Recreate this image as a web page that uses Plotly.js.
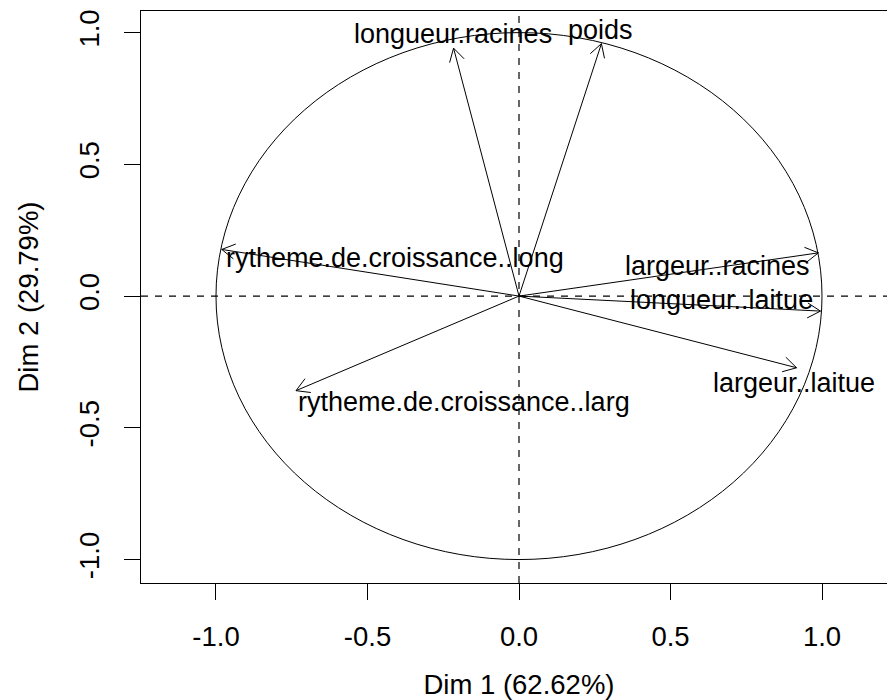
<!DOCTYPE html>
<html>
<head>
<meta charset="utf-8">
<script src="https://cdn.plot.ly/plotly-3.0.1.min.js"></script>
<style>
html, body { margin: 0; padding: 0; overflow: hidden; background: #ffffff; }
#chart { width: 900px; height: 700px; }
</style>
</head>
<body>
<div id="chart"></div>
<script>
// ---- data ----
const variables = ["longueur.racines", "poids", "rytheme.de.croissance..long", "largeur..racines",
                   "longueur..laitue", "largeur..laitue", "rytheme.de.croissance..larg"];
const dim1 = [-0.216, 0.272, -0.981, 0.988, 0.995, 0.916, -0.736];
const dim2 = [0.941, 0.958, 0.177, 0.164, -0.057, -0.272, -0.359];
const tickValues = [-1, -0.5, 0, 0.5, 1];
const tickLabels = ["-1.0", "-0.5", "0.0", "0.5", "1.0"];
const xTitle = "Dim 1 (62.62%)";
const yTitle = "Dim 2 (29.79%)";

// ---- layout constants ----
const W = 900, H = 700;
const M = { l: 141, r: 3, t: 11, b: 117 };
const xRange = [-1.2475, 1.2475];
const yRange = [-1.089, 1.082];
const FONT = "Liberation Sans, Arial, sans-serif";
const FS = 27;
const FSA = 27.5;

// pixel scale (for arrowhead geometry only)
const kx = (W - M.l - M.r) / (xRange[1] - xRange[0]);
const ky = (H - M.t - M.b) / (yRange[1] - yRange[0]);
const headLen = 15, headAng = 30 * Math.PI / 180;

// label placement relative to arrow tip (R-like pos)
const labelPlace = {
  "longueur.racines":            { xanchor: "center", xshift: -1, yshift: 14 },
  "poids":                       { xanchor: "center", xshift: -1, yshift: 14 },
  "rytheme.de.croissance..long": { xanchor: "left",   xshift: 2,  yshift: -9 },
  "largeur..racines":            { xanchor: "right",  xshift: -6, yshift: -13 },
  "longueur..laitue":            { xanchor: "right",  xshift: -5, yshift: 11 },
  "largeur..laitue":             { xanchor: "center", xshift: -3, yshift: -15 },
  "rytheme.de.croissance..larg": { xanchor: "left",   xshift: 0,  yshift: -11 }
};

// arrows: shaft + open V head, built from the data
const ax = [], ay = [];
for (let i = 0; i < variables.length; i++) {
  const x = dim1[i], y = dim2[i];
  ax.push(0, x, null); ay.push(0, y, null);
  const px = x * kx, py = y * ky;
  const len = Math.hypot(px, py);
  const ux = px / len, uy = py / len;
  for (const s of [1, -1]) {
    const c = Math.cos(s * headAng), sn = Math.sin(s * headAng);
    const rx = ux * c - uy * sn, ry = ux * sn + uy * c;
    ax.push(x, x - headLen * rx / kx, null);
    ay.push(y, y - headLen * ry / ky, null);
  }
}

const traces = [{
  type: "scatter", mode: "lines", x: ax, y: ay,
  line: { color: "black", width: 1 }, hoverinfo: "skip", showlegend: false,
  connectgaps: false
}];

const annotations = variables.map((v, i) => Object.assign({
  x: dim1[i], y: dim2[i], xref: "x", yref: "y", text: v, showarrow: false,
  yanchor: "middle", font: { family: FONT, size: FS, color: "black" }
}, labelPlace[v]));

const axisCommon = {
  showgrid: false, zeroline: false, showline: true, mirror: true,
  linecolor: "black", linewidth: 1, ticks: "outside", ticklen: 16,
  tickwidth: 1, tickcolor: "black", tickmode: "array",
  tickvals: tickValues, ticktext: tickLabels,
  tickfont: { family: FONT, size: FSA, color: "black" }, fixedrange: true
};

const layout = {
  width: W, height: H, margin: M,
  paper_bgcolor: "white", plot_bgcolor: "white", showlegend: false,
  xaxis: Object.assign({}, axisCommon, {
    range: xRange, ticklabelstandoff: 13,
    title: { text: xTitle, font: { family: FONT, size: FSA, color: "black" }, standoff: 24 }
  }),
  yaxis: Object.assign({}, axisCommon, {
    range: yRange, tickangle: -90, ticklabelstandoff: 14,
    title: { text: yTitle, font: { family: FONT, size: FSA, color: "black" }, standoff: 27 }
  }),
  shapes: [
    { type: "circle", xref: "x", yref: "y", x0: -1, y0: -1, x1: 1, y1: 1,
      line: { color: "black", width: 1 } },
    { type: "line", xref: "paper", yref: "y", x0: 0, x1: 1, y0: 0, y1: 0,
      line: { color: "black", width: 1.2, dash: "7px,7px" } },
    { type: "line", xref: "x", yref: "paper", x0: 0, x1: 0, y0: 0, y1: 1,
      line: { color: "black", width: 1.2, dash: "7px,7px" } }
  ],
  annotations: annotations
};

Plotly.newPlot("chart", traces, layout, { displayModeBar: false, staticPlot: true });
</script>
</body>
</html>
